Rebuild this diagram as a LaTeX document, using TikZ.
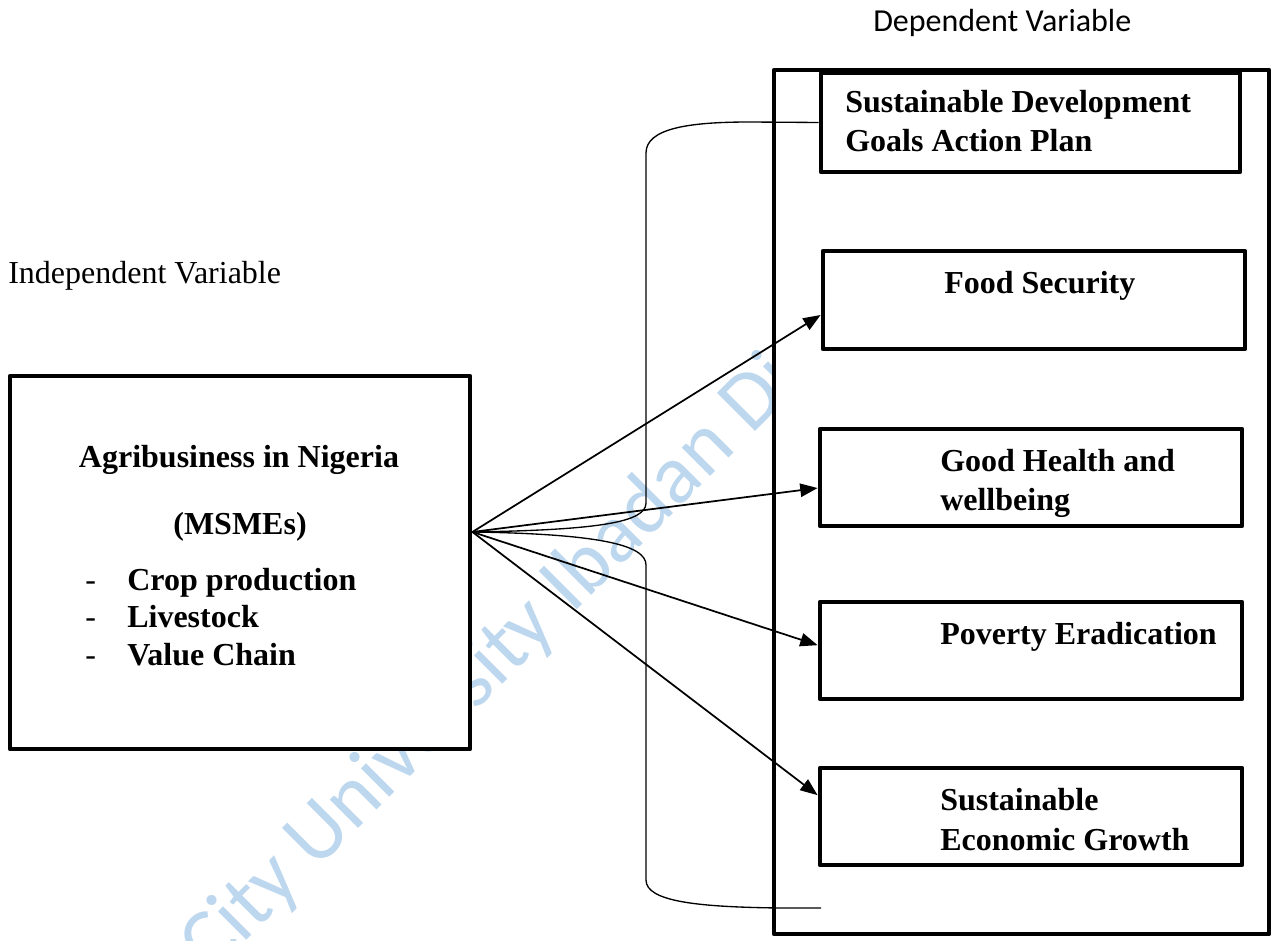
\documentclass[tikz,border=0pt]{standalone}
\usepackage{fontspec}
\setmainfont{Liberation Serif}
\newfontfamily\calibrifont{Carlito}
\usetikzlibrary{arrows.meta,fit}
\definecolor{wmblue}{RGB}{189,215,238}
\begin{document}
\begin{tikzpicture}[x=0.75pt,y=-0.75pt,
  box/.style={draw, line width=3.6pt, fill=white, inner sep=0pt, line join=round},
  lbl/.style={anchor=base west, inner sep=0pt, font=\fontsize{24}{28}\selectfont\bfseries},
  clbl/.style={anchor=base, inner sep=0pt, font=\fontsize{24}{28}\selectfont\bfseries},
  plain/.style={anchor=base west, inner sep=0pt, font=\fontsize{24}{28}\selectfont},
  link/.style={line width=1.3pt, -{Triangle[length=13pt,width=10pt]}},
  bracket/.style={line width=1pt},
  wm/.style={text=wmblue, font=\calibrifont\fontsize{63}{66}\selectfont, inner sep=0pt}]
\useasboundingbox (0,0) rectangle (1277,941);

% repository watermark, kept inside the page
\begin{scope}
  \clip (0,0) rectangle (1277,941);
  \node[wm, rotate=45, anchor=base west] (wmark) at (211,976) {City University Ibadan Digital};
\end{scope}

% headings
\node[plain] (ivlabel) at (8,283) {Independent Variable};
\node[plain, font=\calibrifont\fontsize{24}{28}\selectfont] (dvlabel) at (873,32) {Dependent Variable};

% dependent-variable frame and its boxes
\node[box, fit={(774,70) (1269,934)}] (dvbox) {};
\node[box, fit={(821,73) (1240,172)}] (sdgbox) {};
\node[box, fit={(823,251) (1245,349)}] (foodbox) {};
\node[box, fit={(820,429) (1242,526)}] (healthbox) {};
\node[box, fit={(820,602) (1242,699)}] (povertybox) {};
\node[box, fit={(820,768) (1242,865)}] (growthbox) {};

\node[lbl] (sdg1) at (845,113) {Sustainable Development};
\node[lbl] (sdg2) at (845,152) {Goals Action Plan};
\node[lbl] (food) at (944,293) {Food Security};
\node[lbl] (health1) at (940,471) {Good Health and};
\node[lbl] (health2) at (940,510) {wellbeing};
\node[lbl] (poverty) at (940,644) {Poverty Eradication};
\node[lbl] (growth1) at (940,810) {Sustainable};
\node[lbl] (growth2) at (940,850) {Economic Growth};

% independent-variable box
\node[box, fit={(10,376) (470,749)}] (agri) {};
\node[clbl] (agri1) at (239,467) {Agribusiness in Nigeria};
\node[clbl] (agri2) at (240,534) {(MSMEs)};
\node[plain] (dash1) at (85,590) {-};
\node[plain] (dash2) at (85,627) {-};
\node[plain] (dash3) at (85,665) {-};
\node[lbl] (item1) at (127,590) {Crop production};
\node[lbl] (item2) at (127,627) {Livestock};
\node[lbl] (item3) at (127,665) {Value Chain};

% links from the agribusiness box
\coordinate (src) at ([yshift=22.9pt]agri.east);
\draw[link] (src) -- ([yshift=-11.25pt]foodbox.west);
\draw[link] (src) -- ([yshift=-7.9pt]healthbox.west);
\draw[link] (src) -- ([yshift=4pt]povertybox.west);
\draw[link] (src) -- ([yshift=16pt]growthbox.west);

% bracket grouping the goals
\coordinate (braceend) at (821,908);
\draw[bracket] (src) .. controls (600,530) and (646,522) .. (646,503)
  -- (646,153) .. controls (646,128) and (690,122) .. (750,122) -- (sdgbox.west);
\draw[bracket] (src) .. controls (600,534) and (646,545) .. (646,565)
  -- (646,880) .. controls (646,902) and (700,907) .. (780,908) -- (braceend);
\end{tikzpicture}
\end{document}
